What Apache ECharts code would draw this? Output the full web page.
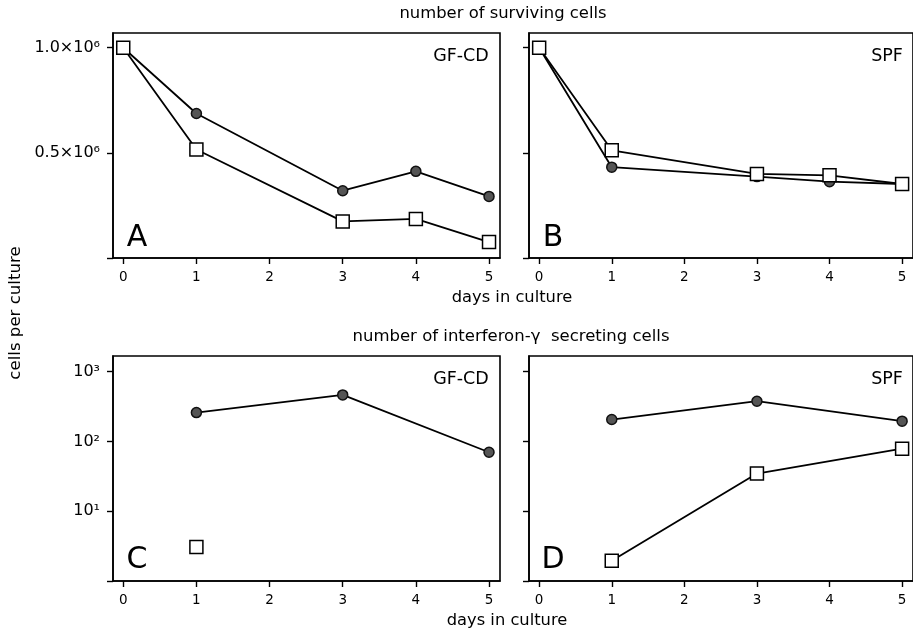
<!DOCTYPE html>
<html>
<head>
<meta charset="utf-8">
<script src="https://cdn.jsdelivr.net/npm/echarts@6/dist/echarts.min.js"></script>
<style>
  html, body { margin: 0; padding: 0; background: #fff; }
  #chart { width: 913px; height: 632px; }
</style>
</head>
<body>
<div id="chart"></div>
<script>
// days on the x axis
const dayTicks = [0, 1, 2, 3, 4, 5];
const survDays = [0, 1, 3, 4, 5];
const ifnDays = [1, 3, 5];

// number of surviving cells
const aCircle = [1.0e6, 0.687e6, 0.32e6, 0.412e6, 0.293e6];
const aSquare = [1.0e6, 0.516e6, 0.174e6, 0.186e6, 0.076e6];
const bCircle = [1.0e6, 0.432e6, 0.387e6, 0.363e6, 0.352e6];
const bSquare = [1.0e6, 0.512e6, 0.40e6, 0.393e6, 0.352e6];

// number of interferon-gamma secreting cells
const cCircle = [259, 464, 70];
const cSquare = [3.06, null, null];
const dCircle = [206, 377, 195];
const dSquare = [1.95, 34.6, 78.7];

// tick labels
const linTicks = [0, 0.5e6, 1.0e6];
const linLabels = {500000: '0.5×10⁶', 1000000: '1.0×10⁶'};
const logTicks = [1, 10, 100, 1000];
const logLabels = {10: '10¹', 100: '10²', 1000: '10³'};

const font = 'DejaVu Sans';
const chart = echarts.init(document.getElementById('chart'));

const grids = [
    {left: 113, top: 33, width: 387, height: 225},
    {left: 529, top: 33, width: 388, height: 225},
    {left: 113, top: 356, width: 387, height: 225},
    {left: 529, top: 356, width: 388, height: 225}
].map(g => ({...g, show: true, borderColor: '#000', borderWidth: 1.6}))

const xAxes = [0, 1, 2, 3].map(i => ({
    type: 'value',
    gridIndex: i,
    position: 'bottom',
    min: -0.14,
    max: 5.15,
    axisLine: {show: true, onZero: false, lineStyle: {color: '#000', width: 1.6}},
    splitLine: {show: false},
    axisTick: {show: true, customValues: dayTicks, length: 6, lineStyle: {color: '#000', width: 1.4}},
    axisLabel: {customValues: dayTicks, color: '#000', fontFamily: font, fontSize: 13.5, margin: 12}
}))

const yAxes = [0, 1, 2, 3].map(i => {
    const log = i >= 2
    const ticks = log ? logTicks : linTicks
    const labels = log ? logLabels : linLabels
    return {
        type: log ? 'log' : 'value',
        gridIndex: i,
        min: log ? 1 : 0,
        max: log ? 1675 : 1.07e6,
        axisLine: {show: true, onZero: false, lineStyle: {color: '#000', width: 1.6}},
        splitLine: {show: false},
        axisTick: {show: true, customValues: ticks, length: 6, lineStyle: {color: '#000', width: 1.4}},
        axisLabel: {
            show: i % 2 === 0,
            customValues: ticks.filter(v => labels[v]),
            color: '#000',
            fontFamily: font,
            fontSize: 16,
            margin: 13,
            formatter: v => labels[Math.round(v)] || ''
        }
    }
})

const pairs = (xs, ys) => xs.map((x, k) => [x, ys[k]]).filter(p => p[1] != null)

const circle = (idx, xs, ys) => ({
    type: 'line', xAxisIndex: idx, yAxisIndex: idx,
    data: pairs(xs, ys),
    symbol: 'circle', symbolSize: 10,
    lineStyle: {color: '#000', width: 1.8},
    itemStyle: {color: '#555', borderColor: '#111', borderWidth: 1.5},
    z: 2, animation: false
})
const square = (idx, xs, ys) => ({
    type: 'line', xAxisIndex: idx, yAxisIndex: idx,
    data: pairs(xs, ys),
    symbol: 'rect', symbolSize: 13,
    lineStyle: {color: '#000', width: 1.8},
    itemStyle: {color: '#fff', borderColor: '#000', borderWidth: 1.5},
    z: 3, animation: false
})

const txt = (text, x, y, size) => ({
    type: 'text', x: x, y: y, silent: true,
    style: {text: text, fill: '#000', font: size + 'px "' + font + '"',
        textAlign: 'center', textVerticalAlign: 'middle'}
})

const option = {
    animation: false,
    grid: grids,
    xAxis: xAxes,
    yAxis: yAxes,
    series: [
        circle(0, survDays, aCircle), square(0, survDays, aSquare),
        circle(1, survDays, bCircle), square(1, survDays, bSquare),
        circle(2, ifnDays, cCircle), square(2, ifnDays, cSquare),
        circle(3, ifnDays, dCircle), square(3, ifnDays, dSquare)
    ],
    graphic: [
        txt('number of surviving cells', 503, 14, 16.4),
        txt('days in culture', 512, 298, 16.3),
        txt('number of interferon-γ  secreting cells', 511, 337, 16.5),
        txt('days in culture', 507, 621, 16.3),
        {type: 'text', x: 16, y: 313, rotation: Math.PI / 2, silent: true,
            style: {text: 'cells per culture', fill: '#000', font: '16.6px "' + font + '"',
                textAlign: 'center', textVerticalAlign: 'middle'}},
        txt('GF-CD', 461, 56, 17.5),
        txt('SPF', 887, 56, 17.5),
        txt('GF-CD', 461, 379, 17.5),
        txt('SPF', 887, 379, 17.5),
        txt('A', 137, 238, 30),
        txt('B', 553, 238, 30),
        txt('C', 137, 560, 30),
        txt('D', 553, 560, 30)
    ]
}
chart.setOption(option)
</script>
</body>
</html>
